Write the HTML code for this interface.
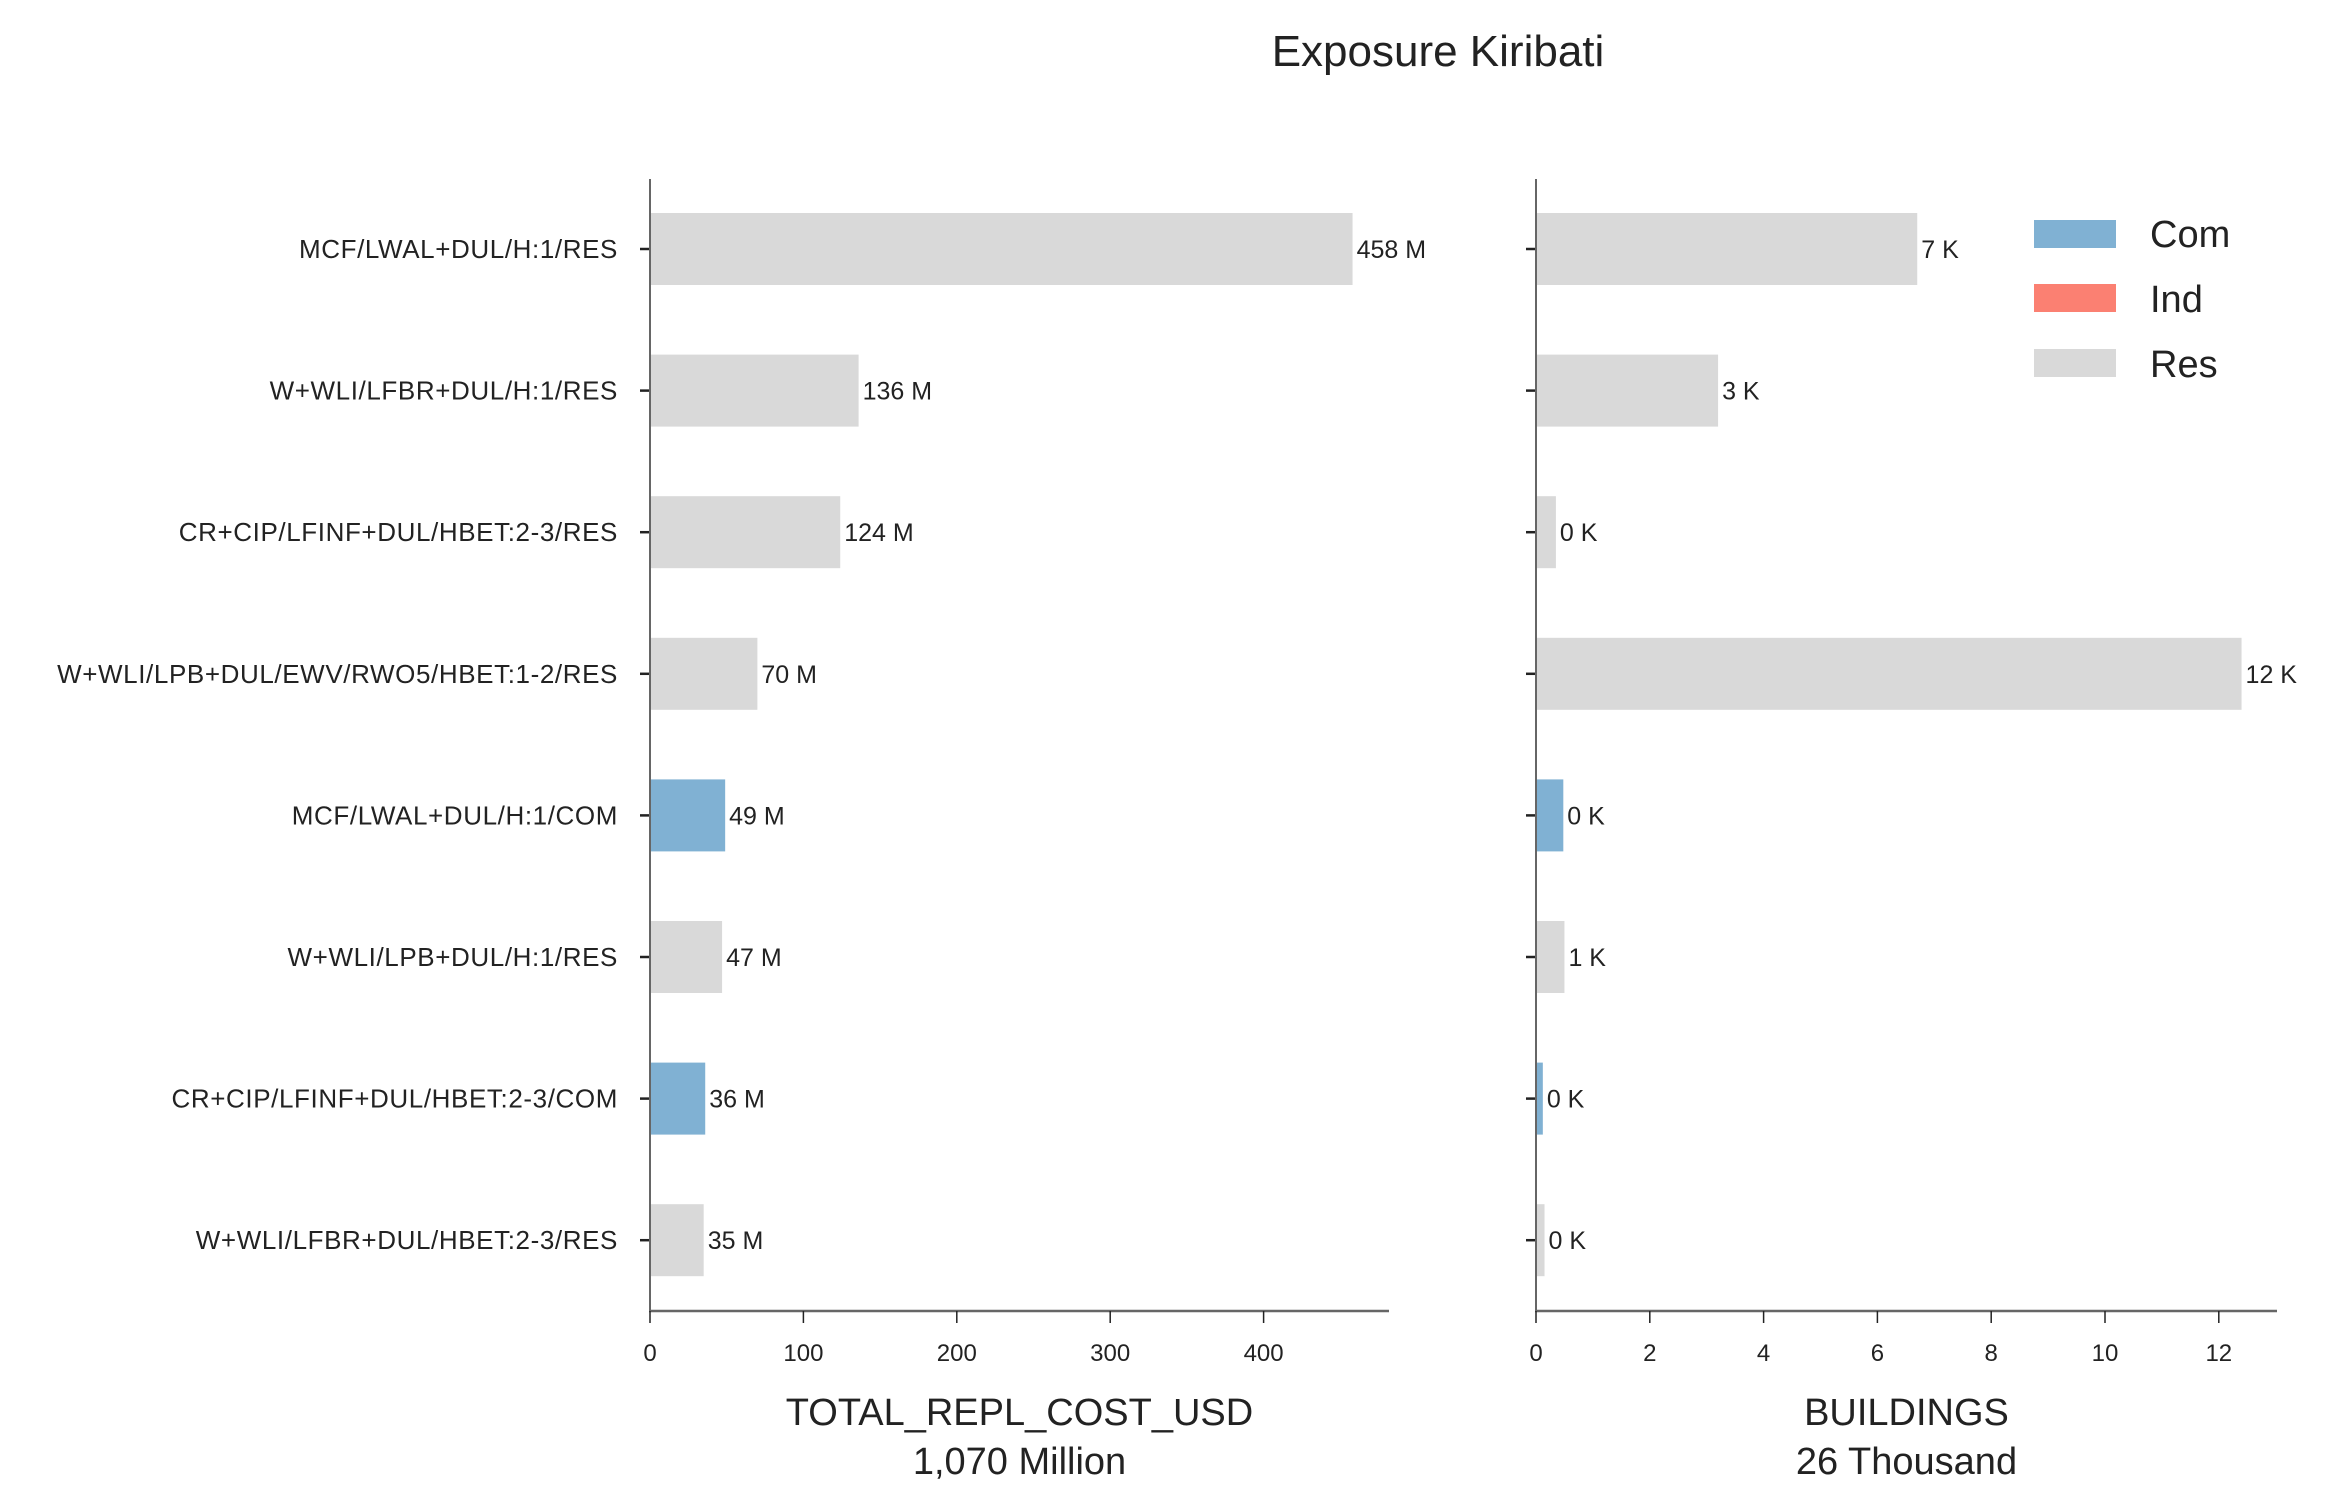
<!DOCTYPE html>
<html><head><meta charset="utf-8"><style>
html,body{margin:0;padding:0;background:#fff;}
svg{display:block;font-family:"Liberation Sans",sans-serif;}
</style></head><body>
<svg id="chart" width="2336" height="1511" viewBox="0 0 2336 1511">
<text x="1438" y="66" font-size="44" text-anchor="middle" fill="#222">Exposure Kiribati</text>
<g id="left"></g>
<g id="right"></g>
<g>
<rect x="2034" y="220" width="82" height="28" fill="#80b1d3"/>
<text x="2150" y="247" font-size="38" fill="#222">Com</text>
<rect x="2034" y="284" width="82" height="28" fill="#fb8072"/>
<text x="2150" y="312" font-size="38" fill="#222">Ind</text>
<rect x="2034" y="349" width="82" height="28" fill="#d9d9d9"/>
<text x="2150" y="377" font-size="38" fill="#222">Res</text>
</g>
</svg>
<script>
const categories = ["MCF/LWAL+DUL/H:1/RES","W+WLI/LFBR+DUL/H:1/RES","CR+CIP/LFINF+DUL/HBET:2-3/RES","W+WLI/LPB+DUL/EWV/RWO5/HBET:1-2/RES","MCF/LWAL+DUL/H:1/COM","W+WLI/LPB+DUL/H:1/RES","CR+CIP/LFINF+DUL/HBET:2-3/COM","W+WLI/LFBR+DUL/HBET:2-3/RES"];
const occupancy = ["Res","Res","Res","Res","Com","Res","Com","Res"];
const costValues = [458,136,124,70,49,47,36,35];
const costLabels = ["458 M","136 M","124 M","70 M","49 M","47 M","36 M","35 M"];
const buildingValues = [6.7,3.2,0.35,12.4,0.48,0.5,0.12,0.15];
const buildingLabels = ["7 K","3 K","0 K","12 K","0 K","1 K","0 K","0 K"];
const costTicks = [0,100,200,300,400];
const buildingTicks = [0,2,4,6,8,10,12];
const colors = {Com:"#80b1d3",Ind:"#fb8072",Res:"#d9d9d9"};
const NS="http://www.w3.org/2000/svg";
const yTop=179, yBot=1311, rowStart=249, rowStep=141.6, barH=72;
function yPos(i){return rowStart+i*rowStep;}
function mk(tag,attrs,parent,text){const e=document.createElementNS(NS,tag);for(const k in attrs)e.setAttribute(k,attrs[k]);if(text!==undefined)e.textContent=text;parent.appendChild(e);return e;}
function panel(g,x0,x1,scale,values,labels,ticks,title1,title2,showCats,prefix){
  const xs=v=>x0+v*scale;
  for(let i=0;i<values.length;i++){
    const y=yPos(i);
    const r=mk('rect',{x:x0,y:y-barH/2,width:xs(values[i])-x0,height:barH,fill:colors[occupancy[i]]},g);
    
    
    const t=mk('text',{x:xs(values[i])+4,y:y+9,'font-size':25,fill:'#222'},g,labels[i]);
    
    
    const tk=mk('line',{x1:x0-10,x2:x0,y1:y,y2:y,stroke:'#222','stroke-width':2.5},g);
    
    
    if(showCats){
      const c=mk('text',{x:x0-32,y:y+9,'font-size':26,'letter-spacing':0.6,'text-anchor':'end',fill:'#222'},g,categories[i]);
      
      
    }
  }
  const ya=mk('line',{x1:x0,x2:x0,y1:yTop,y2:yBot,stroke:'#666','stroke-width':2},g);
  
  
  const xa=mk('line',{x1:x0-1,x2:x1,y1:yBot,y2:yBot,stroke:'#666','stroke-width':2.5},g);
  
  
  ticks.forEach(v=>{
    const l=mk('line',{x1:xs(v),x2:xs(v),y1:yBot,y2:yBot+12,stroke:'#222','stroke-width':1.5},g);
    
    
    const t=mk('text',{x:xs(v),y:yBot+50,'font-size':24,'text-anchor':'middle',fill:'#222'},g,String(v));
    
    
  });
  const cx=(x0+x1)/2;
  const a=mk('text',{x:cx,y:1425,'font-size':38,'text-anchor':'middle',fill:'#222'},g,title1);
  
  
  const b=mk('text',{x:cx,y:1474,'font-size':38,'text-anchor':'middle',fill:'#222'},g,title2);
  
  
}
panel(document.getElementById('left'),650,1389,1.534,costValues,costLabels,costTicks,"TOTAL_REPL_COST_USD","1,070 Million",true,'cost');
panel(document.getElementById('right'),1536,2277,56.9,buildingValues,buildingLabels,buildingTicks,"BUILDINGS","26 Thousand",false,'buildings');
</script>
</body></html>
